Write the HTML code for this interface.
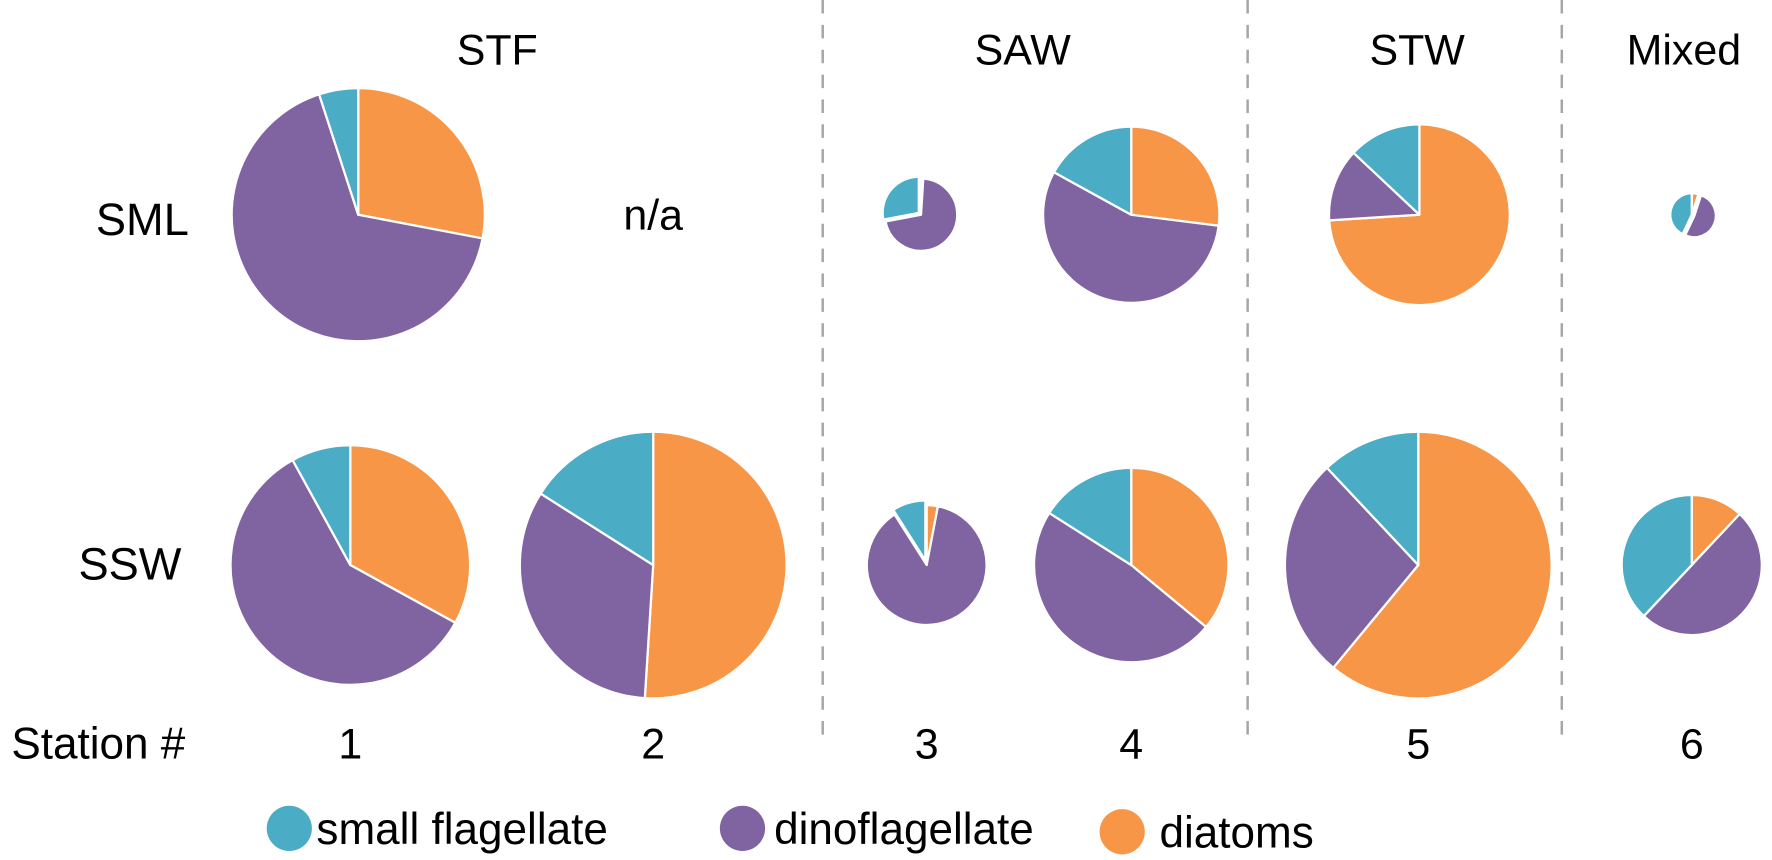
<!DOCTYPE html>
<html><head><meta charset="utf-8">
<style>
body{margin:0;background:#fff;}
svg{display:block;font-family:"Liberation Sans",Arial,sans-serif;}
</style></head>
<body>
<svg id="chart" width="1772" height="860" viewBox="0 0 1772 860" xmlns="http://www.w3.org/2000/svg">
 <g transform="scale(1.1301)">
  <g stroke="#a6a6a6" stroke-width="2.2" stroke-dasharray="12,10">
    <line x1="728" y1="0" x2="728" y2="650"/>
    <line x1="1104" y1="0" x2="1104" y2="650"/>
    <line x1="1382" y1="0" x2="1382" y2="650"/>
  </g>
  <g font-size="38" fill="#000" text-anchor="middle">
    <text x="440" y="57">STF</text>
    <text x="905" y="57">SAW</text>
    <text x="1254" y="57">STW</text>
    <text x="1490" y="57">Mixed</text>
    <text x="126" y="208" font-size="40">SML</text>
    <text x="115" y="513" font-size="40">SSW</text>
    <text x="578" y="203">n/a</text>
    <text x="87" y="671" font-size="39">Station #</text>
  </g>
  <g id="pies"></g>
  <g id="stations" font-size="38" text-anchor="middle"></g>
  <g font-size="39">
    <g>
      <circle cx="256" cy="733" r="20" fill="#4bacc6"/>
      <text x="280" y="747">small flagellate</text>
    </g>
    <g>
      <circle cx="657" cy="733" r="20" fill="#8064a2"/>
      <text x="685" y="747">dinoflagellate</text>
    </g>
    <g>
      <circle cx="993" cy="736" r="20" fill="#f79646"/>
      <text x="1026" y="750">diatoms</text>
    </g>
  </g>
 </g>
</svg>
<script>
const stations = ["1","2","3","4","5","6"];
const groups = ["diatoms","dinoflagellate","small flagellate"];
// percentages, clockwise from 12 o'clock: diatoms, dinoflagellate, small flagellate
const smlDiatoms = [28, null, 1, 27, 74, 5];
const smlDino    = [67, null, 71, 56, 13, 52];
const smlSmall   = [5, null, 28, 17, 13, 43];
const sswDiatoms = [33, 51, 3, 36, 61, 12];
const sswDino    = [59, 33, 88, 48, 27, 50];
const sswSmall   = [8, 16, 9, 16, 12, 38];
const smlSize = [112, 0, 32, 78, 80, 19];
const sswSize = [106, 118, 53, 86, 118, 62];

const colors = ["#f79646","#8064a2","#4bacc6"];
const colX = [317, 578, 815, 1001, 1256, 1497];
const sswX = [310, 578, 820, 1001, 1255, 1497];
const rowY = {sml:190, ssw:500};
const explode = {sml:[-1,-1,2,-1,-1,1], ssw:[-1,-1,2,-1,-1,-1]};
const NS = "http://www.w3.org/2000/svg";
const pies = document.getElementById("pies");

function angle(frac){ return frac*2*Math.PI; }
function pt(cx,cy,r,a){ return [cx + r*Math.sin(a), cy - r*Math.cos(a)]; }

function drawPie(row, i, cx, cy, r, vals){
  if (!r || vals[0]===null) return;
  const g = document.createElementNS(NS,"g");
  
  
  const total = vals.reduce((a,b)=>a+b,0);
  let acc = 0;
  vals.forEach((v,k)=>{
    if (v<=0){ return; }
    const a0 = angle(acc/total), a1 = angle((acc+v)/total);
    acc += v;
    let ox=0, oy=0;
    if (explode[row][i]===k){
      const mid=(a0+a1)/2; const d=Math.max(2.5, r*0.08);
      ox = d*Math.sin(mid); oy = -d*Math.cos(mid);
    }
    const c=[cx+ox, cy+oy];
    const p0=pt(c[0],c[1],r,a0), p1=pt(c[0],c[1],r,a1);
    const large = (a1-a0)>Math.PI?1:0;
    const path = document.createElementNS(NS,"path");
    path.setAttribute("d", `M${c[0]},${c[1]} L${p0[0]},${p0[1]} A${r},${r} 0 ${large} 1 ${p1[0]},${p1[1]} Z`);
    path.setAttribute("fill", colors[k]);
    path.setAttribute("stroke", "#fff");
    path.setAttribute("stroke-width", "2");
    path.setAttribute("stroke-linejoin", "round");
    
    
    g.appendChild(path);
  });
  pies.appendChild(g);
}

stations.forEach((s,i)=>{
  drawPie("sml", i, colX[i], rowY.sml, smlSize[i], [smlDiatoms[i], smlDino[i], smlSmall[i]]);
  drawPie("ssw", i, sswX[i], rowY.ssw, sswSize[i], [sswDiatoms[i], sswDino[i], sswSmall[i]]);
  const t = document.createElementNS(NS,"text");
  t.setAttribute("x", [310,578,820,1001,1255,1497][i]);
  t.setAttribute("y", 671);
  t.textContent = s;
  
  
  document.getElementById("stations").appendChild(t);
});
</script>
</body></html>
